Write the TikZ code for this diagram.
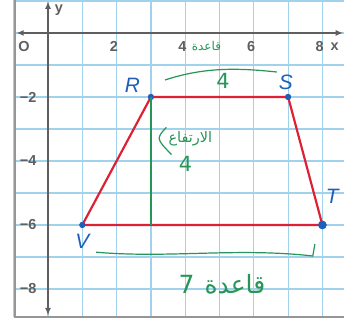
\documentclass[tikz,border=0pt]{standalone}
\usepackage{fontspec}
\setmainfont{Liberation Sans}
\newfontfamily\arabicfont[Script=Arabic]{DejaVu Sans}
\usetikzlibrary{arrows.meta,positioning}
\TeXXeTstate=1
\definecolor{gridline}{RGB}{160,210,236}
\definecolor{framegray}{RGB}{150,150,150}
\definecolor{axisgray}{RGB}{95,95,95}
\definecolor{edge}{RGB}{222,32,52}
\definecolor{vertex}{RGB}{30,95,185}
\definecolor{note}{RGB}{38,150,88}

\begin{document}
\begin{tikzpicture}[x=1cm, y=0.933cm,
    pt/.style={circle, fill=vertex, inner sep=0pt, minimum size=5pt},
    tick/.style={text=axisgray, font=\bfseries\large, inner sep=1pt},
    letter/.style={text=vertex, font=\itshape\LARGE, inner sep=1pt},
    hand/.style={text=note, inner sep=1pt}]
    \useasboundingbox (-1.4,1.03) rectangle (8.63,-9.09);
    \fill[white] (-1.4,1.03) rectangle (8.63,-9.09);

    % grid paper
    \foreach \i in {-1,...,8}
        \draw[gridline, line width=1pt] (\i,1.03) -- (\i,-8.88);
    \foreach \j in {1,0,...,-8}
        \draw[gridline, line width=1pt] (-0.96,\j) -- (8.63,\j);
    \draw[framegray, line width=1.4pt] (-0.96,1.03) -- (-0.96,-8.88) -- (8.63,-8.88);

    % axes
    \draw[axisgray, line width=1.8pt, {Latex[length=6pt,width=5pt]}-{Latex[length=6pt,width=5pt]}] (-0.92,0) -- (8.6,0);
    \draw[axisgray, line width=1.8pt, {Latex[length=6pt,width=5pt]}-{Latex[length=6pt,width=5pt]}] (0,0.98) -- (0,-8.82);
    \node[tick] (ylab) at (0.32,0.72) {y};
    \node[tick] (xlab) at (8.36,-0.42) {x};
    \node[tick] (orig) at (-0.7,-0.42) {O};
    \foreach \v in {2,4,6,8}
        \node[tick] (xt\v) at (\v-0.08,-0.42) {\v};
    \foreach \v in {2,4,6,8}
        \node[tick] (yt\v) at (-0.58,-\v) {−\v};

    % trapezoid RSTV
    \node[pt] (R) at (3,-2) {};
    \node[pt] (S) at (7,-2) {};
    \node[pt, minimum size=7pt] (T) at (8,-6) {};
    \node[pt] (V) at (1,-6) {};
    \draw[edge, line width=1.8pt] (R.center) -- (S.center) -- (T.center) -- (V.center) -- cycle;
    \node[pt] at (R) {};
    \node[pt] at (S) {};
    \node[pt, minimum size=7pt] at (T) {};
    \node[pt] at (V) {};

    \node[letter, above left=1pt and 6pt of R] (Rlab) {R};
    \node[letter, above left=3pt and -7pt of S] (Slab) {S};
    \node[letter, above right=14pt and -1pt of T] (Tlab) {T};
    \node[letter, below=4pt of V] (Vlab) {V};

    % height
    \coordinate (H) at (R |- V);
    \draw[note, line width=1.3pt] (R.center) -- (H);
    \draw[note, line width=1pt] (3.45,-2.95) .. controls (3.15,-3.3) .. (3.6,-3.8);
    \node[hand, font=\arabicfont\large] (hgt) at (4.15,-3.3) {\beginR الارتفاع\endR};
    \node[hand, font=\arabicfont\LARGE, below left=6pt and -22pt of hgt] (hval) {4};

    % top base
    \draw[note, line width=1pt] (3.41,-1.47) .. controls (4.6,-1.05) and (5.6,-1.1) .. (6.67,-1.22);
    \node[hand, font=\arabicfont\LARGE] (tval) at (5.1,-1.5) {4};
    \node[hand, font=\arabicfont\normalsize] (tlab) at (4.62,-0.42) {\beginR قاعدة\endR};

    % bottom base
    \draw[note, line width=1pt] (1.4,-6.85) .. controls (3.5,-7.05) and (5.5,-6.7) .. (7.72,-6.97) -- (7.78,-6.6);
    \node[hand, font=\arabicfont\huge] (blab) at (5.45,-7.85) {\beginR قاعدة\endR};
    \node[hand, font=\arabicfont\huge, left=6pt of blab] (bval) {7};
\end{tikzpicture}
\end{document}
